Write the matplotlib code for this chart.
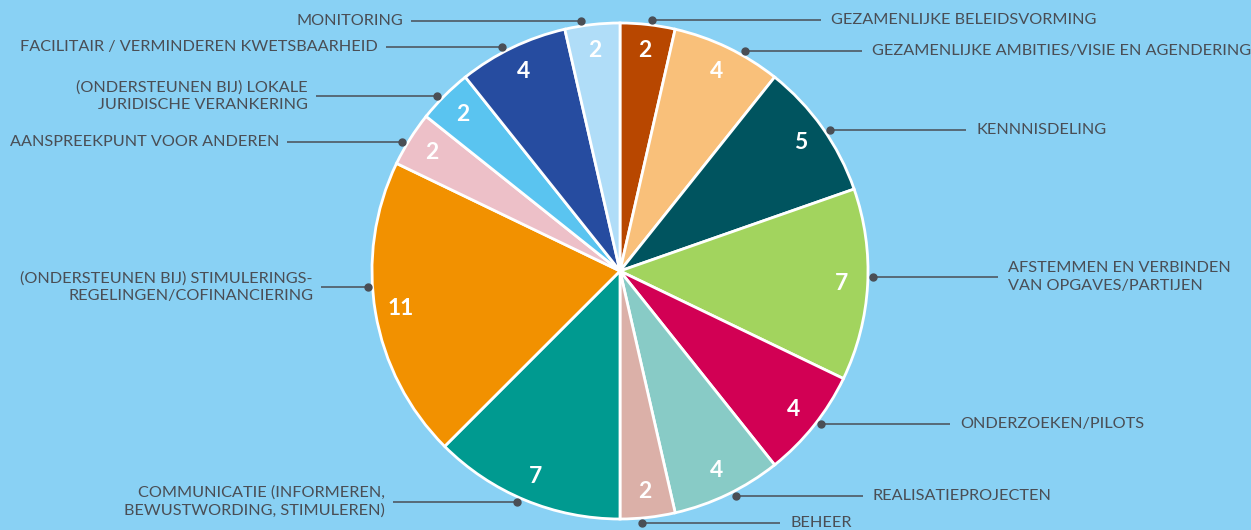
import matplotlib
matplotlib.use("Agg")
import matplotlib.pyplot as plt
import numpy as np

# ---- data -------------------------------------------------------------
categories = [
    "GEZAMENLIJKE BELEIDSVORMING",
    "GEZAMENLIJKE AMBITIES/VISIE EN AGENDERING",
    "KENNNISDELING",
    "AFSTEMMEN EN VERBINDEN\nVAN OPGAVES/PARTIJEN",
    "ONDERZOEKEN/PILOTS",
    "REALISATIEPROJECTEN",
    "BEHEER",
    "COMMUNICATIE (INFORMEREN,\nBEWUSTWORDING, STIMULEREN)",
    "(ONDERSTEUNEN BIJ) STIMULERINGS-\nREGELINGEN/COFINANCIERING",
    "AANSPREEKPUNT VOOR ANDEREN",
    "(ONDERSTEUNEN BIJ) LOKALE\nJURIDISCHE VERANKERING",
    "FACILITAIR / VERMINDEREN KWETSBAARHEID",
    "MONITORING",
]
values = [2, 4, 5, 7, 4, 4, 2, 7, 11, 2, 2, 4, 2]
colors = ["#B84700", "#F9C07A", "#00545F", "#A2D45E", "#D20054", "#88CBC6",
          "#DBB0A8", "#009A90", "#F29100", "#EDC0C8", "#5AC4F0", "#264CA0",
          "#B0DDF8"]

# ---- layout (pixels from top-left) -------------------------------------
W, H = 1251, 530
BG = "#89D1F4"
TXT = "#4A4E55"
cx, cy_pix, R = 620, 271, 248
R_dot = 253
# label line y (from top), side, text anchor x
label_layout = [
    (20, "right", 831),
    (51, "right", 872),
    (130, "right", 976),
    (277, "right", 1008),
    (424, "right", 960),
    (496, "right", 873),
    (523, "right", 790),
    (502, "left", 385),
    (287, "left", 313),
    (142, "left", 279),
    (96, "left", 308),
    (47, "left", 378),
    (21, "left", 403),
]

plt.rcParams["font.family"] = ["Lato", "DejaVu Sans"]

fig = plt.figure(figsize=(W / 100, H / 100), dpi=100, facecolor=BG)
ax = fig.add_axes([0, 0, 1, 1])
ax.set_facecolor(BG)

total = sum(values)
wedges, _, autotexts = ax.pie(
    values, colors=colors, startangle=90, counterclock=False,
    center=(cx, H - cy_pix), radius=R,
    wedgeprops=dict(edgecolor="white", linewidth=2.0),
    autopct=lambda p: f"{round(p * total / 100)}", pctdistance=0.895,
    textprops=dict(color="white", fontsize=16.5, fontweight="bold"),
)
for t in autotexts:
    t.set_va("center")
    t.set_ha("center")

ax.set_xlim(0, W)
ax.set_ylim(0, H)
ax.set_aspect("auto")
ax.axis("off")

for cat, (ypix, side, tx) in zip(categories, label_layout):
    dy = cy_pix - ypix
    dx = np.sqrt(max(R_dot ** 2 - dy ** 2, 0))
    y = H - ypix
    if side == "right":
        dot_x = cx + dx
        line_end = tx - 10
        ha = "left"
    else:
        dot_x = cx - dx
        line_end = tx + 8
        ha = "right"
    ax.plot([dot_x, line_end], [y, y], color=TXT, lw=1.1, zorder=5,
            solid_capstyle="butt")
    ax.plot([dot_x], [y], "o", color=TXT, ms=5, zorder=6)
    ax.text(tx, y, cat, ha=ha, va="center", multialignment=ha,
            color=TXT, fontsize=11.7, linespacing=1.32)

fig.savefig("out.png", dpi=100, facecolor=BG)
